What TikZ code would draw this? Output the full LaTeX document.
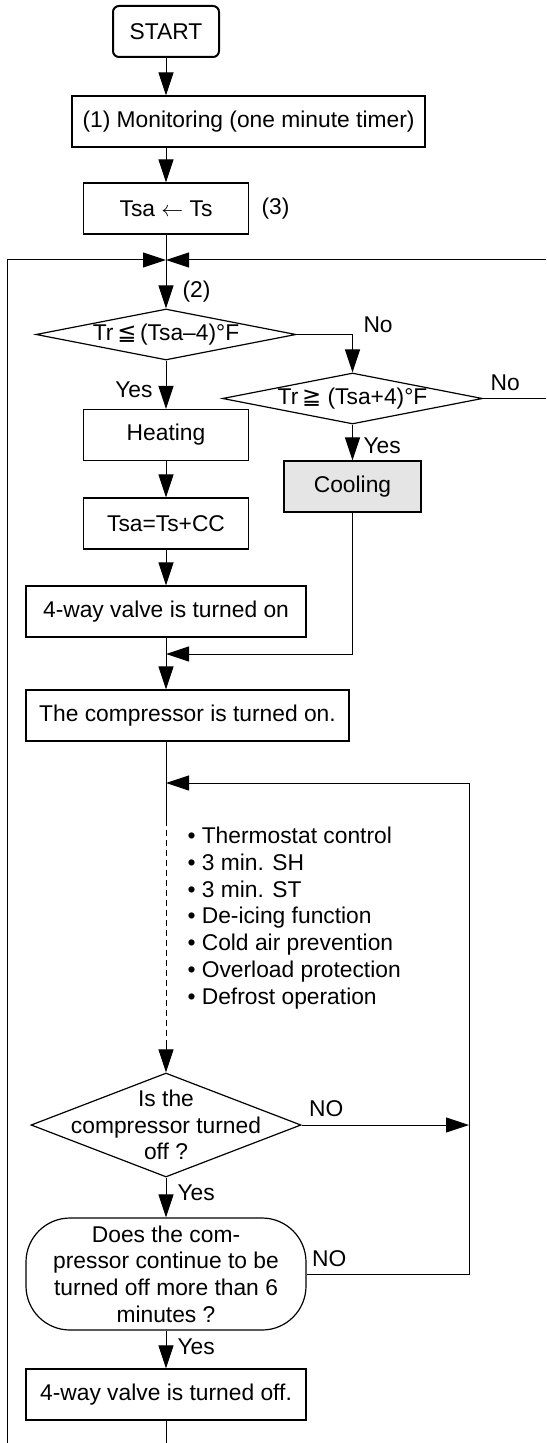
\documentclass[tikz,border=0pt]{standalone}
\usepackage{fontspec}
\setmainfont{Liberation Sans}
\newfontfamily\dejavu{DejaVu Sans}
\usetikzlibrary{arrows.meta, positioning, shapes.geometric}

\newcommand{\flowfont}{\fontsize{11.4pt}{13.35pt}\selectfont}
\definecolor{coolgray}{gray}{0.9}

\begin{document}
\begin{tikzpicture}[>={Triangle[length=11.5pt,width=7.5pt]}, line width=0.5pt, on grid,
  every node/.style={font=\flowfont},
  box/.style={draw, rectangle, inner sep=0pt, minimum height=25.5pt, line width=0.6pt},
  startbox/.style={box, rounded corners=3pt, line width=1pt},
  decision/.style={draw, diamond, inner sep=-20pt, line width=0.6pt},
  roundbox/.style={draw, rectangle, rounded corners=22pt, inner sep=0pt, align=center, line width=0.6pt},
  lbl/.style={inner sep=1.5pt}]

  \useasboundingbox (0,0) rectangle (273pt,-721.5pt);

  \node[startbox, minimum width=53pt] (start) at (83pt,-15.75pt) {START};
  \node[box, minimum width=176.5pt, below right=45pt and 41.25pt of start] (monitor) {(1) Monitoring (one minute timer)};
  \node[box, minimum width=82.5pt, below=88.5pt of start] (tsa) {Tsa $\leftarrow$ Ts};
  \node[lbl, anchor=west, xshift=4.5pt] (note3) at (tsa.east) {(3)};
  \coordinate[below=25.75pt of tsa] (j1);
  \node[decision, minimum width=130pt, minimum height=25.5pt, below=63pt of tsa] (cond1) {Tr\,{\dejavu ≦}\,(Tsa–4)°F};
  \node[decision, minimum width=130pt, minimum height=25.5pt, below right=32pt and 93.25pt of cond1] (cond2) {Tr\,{\dejavu ≧} (Tsa+4)°F};
  \node[box, minimum width=82.5pt, below=50.25pt of cond1] (heat) {Heating};
  \node[box, minimum width=68.5pt, fill=coolgray, below=44pt of cond2] (cool) {Cooling};
  \node[box, minimum width=82.5pt, below=44.25pt of heat] (tsacc) {Tsa=Ts+CC};
  \node[box, minimum width=140pt, below=44pt of tsacc] (valveon) {4-way valve is turned on};
  \coordinate[below=21.25pt of valveon] (j2);
  \node[box, minimum width=161.5pt, below right=52pt and 10.75pt of valveon] (comp) {The compressor is turned on.};
  \coordinate[below=85.75pt of valveon] (j3);
  \coordinate[below=18.5pt of j3] (dash1);
  \node[align=left, inner sep=0pt, below right=49pt and 10.5pt of dash1, anchor=west] (checks)
    {• Thermostat control\\• 3 min. SH\\• 3 min. ST\\• De-icing function\\• Cold air prevention\\• Overload protection\\• Defrost operation};
  \node[decision, align=center, minimum width=135pt, minimum height=52pt, below left=204.75pt and 10.75pt of comp] (cond3) {Is the\\compressor turned\\off ?};
  \coordinate[above=42.5pt of cond3] (dash2);
  \node[roundbox, minimum width=140pt, minimum height=56pt, below=74.5pt of cond3] (cond4) {Does the com-\\pressor continue to be\\turned off more than 6\\minutes ?};
  \node[box, minimum width=140pt, below=60.25pt of cond4] (valveoff) {4-way valve is turned off.};
  \coordinate[below=24.25pt of valveoff] (bottom);
  \coordinate[left=79.5pt of bottom] (leftend);
  \coordinate[right=190pt of j1] (topend);
  \coordinate[right=96.75pt of cond2] (noend);
  \coordinate[right=151.5pt of j3] (loopr);

  \draw[->] (start) -- (start |- monitor.north);
  \draw[->] (monitor.south -| tsa) -- (tsa);
  \draw (tsa) -- (j1);
  \draw[->] (leftend) |- (j1);
  \draw[->] (topend) -- (j1);
  \path[->] (j1) edge node[lbl, pos=0.65, anchor=west, xshift=6.5pt] {(2)} (cond1);
  \draw[->] (cond1) -| node[lbl, pos=0.5, anchor=south west, xshift=3.75pt, yshift=-1pt] {No} (cond2);
  \draw (cond2) -- (noend) node[lbl, pos=0, anchor=south west, xshift=2pt, yshift=2pt] {No};
  \path[->] (cond1) edge node[lbl, pos=0.6, anchor=east, xshift=-5pt] {Yes} (heat);
  \path[->] (cond2) edge node[lbl, pos=0.6, anchor=west, xshift=3.75pt] {Yes} (cool);
  \path[->] (heat) edge (tsacc);
  \path[->] (tsacc) edge (valveon);
  \draw[->] (cool) |- (j2);
  \draw[->] (valveon) -- (valveon |- comp.north);
  \draw (comp.south -| j3) -- (dash1);
  \draw[dash pattern=on 3pt off 2pt] (dash1) -- (dash2);
  \draw[->] (dash2) -- (cond3);
  \draw[->] (cond3) -- (cond3 -| loopr) node[lbl, pos=0, anchor=south west, xshift=2pt, yshift=2.3pt] {NO};
  \draw[->] (cond4) -| (loopr) -- (j3);
  \node[lbl, anchor=south west, xshift=1pt, yshift=1.8pt] (no4) at (cond4.east) {NO};
  \path[->] (cond3) edge node[lbl, pos=0.39, anchor=west, xshift=4pt] {Yes} (cond4);
  \path[->] (cond4) edge node[lbl, pos=0.44, anchor=west, xshift=4pt] {Yes} (valveoff);
  \draw (valveoff) -- (bottom);

\end{tikzpicture}
\end{document}
